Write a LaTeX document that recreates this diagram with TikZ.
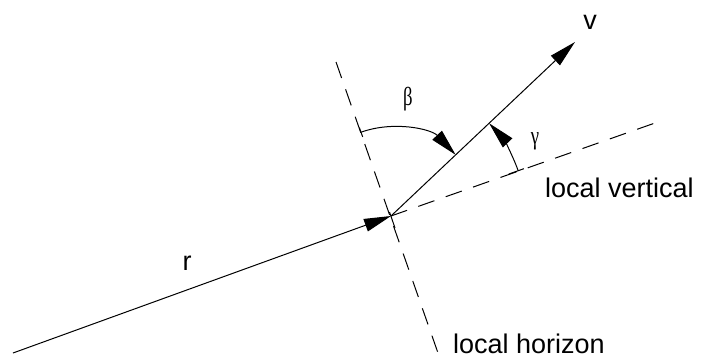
\documentclass[tikz,border=0pt]{standalone}
\usepackage{fontspec}
\setmainfont{Liberation Sans}
\newfontfamily\greekfont{Liberation Serif}
\usetikzlibrary{arrows.meta,calc}
\begin{document}
\begin{tikzpicture}[x=1pt,y=-1pt,
  vec/.style={line width=1pt,-{Triangle[length=27pt,width=13pt]}},
  guide/.style={line width=1pt,dash pattern=on 17pt off 12pt},
  tickmark/.style={line width=1pt},
  lbl/.style={font=\fontsize{27}{30}\selectfont,inner sep=0pt},
  glbl/.style={font=\greekfont\fontsize{26}{28}\selectfont,inner sep=0pt,xscale=0.72}]
\useasboundingbox (0,0) rectangle (703,358);
\coordinate (O) at (391,216);
\coordinate (R0) at (13,353);
\coordinate (V) at (575,42);
\coordinate (H1) at (336,62);
\coordinate (H2) at (438,353);
\coordinate (LV) at (655,123);
% guide lines
\draw[guide] (H1) -- (H2);
\draw[guide] (O) -- (LV);
% vectors
\draw[vec] (R0) -- (O);
\draw[vec] (O) -- (V);
\draw[tickmark] ($(O)+(-1.5,-4)$) -- ++(5.5,16);
% angle beta
\coordinate (B0) at ($(O)+(-109.7:89)$);
\draw[vec] (B0) arc[start angle=-109.7,end angle=-43.4,radius=89];
\draw[tickmark] ($(O)+(-109.7:84)$) -- ($(O)+(-109.7:94)$);
% angle gamma
\coordinate (G0) at ($(O)+(-19.6:135)$);
\draw[vec] (G0) arc[start angle=-19.6,end angle=-43.4,radius=135];
\draw[tickmark] ($(O)+(-19.6:125)$) -- ($(O)+(-19.6:141)$);
% labels
\node[lbl] (vl) at (590,22) {v};
\node[lbl] (rl) at (187,263) {r};
\node[glbl] (bl) at (408,99) {β};
\node[glbl] (gl) at (535,141) {γ};
\node[lbl,anchor=base west] (lvl) at (545,197) {local vertical};
\node[lbl,anchor=base west] (lhl) at (453,353) {local horizon};
\end{tikzpicture}
\end{document}
